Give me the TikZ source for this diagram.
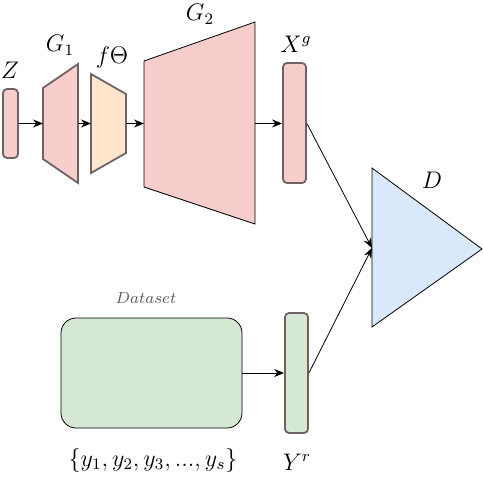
\documentclass[tikz,border=0pt]{standalone}
\usetikzlibrary{arrows.meta}
\definecolor{pinkfill}{HTML}{F8CECC}
\definecolor{peachfill}{HTML}{FFE6CC}
\definecolor{greenfill}{HTML}{D5E8D4}
\definecolor{bluefill}{HTML}{DAE8FC}
\definecolor{edgegray}{HTML}{6E6262}
\tikzset{
  vecbox/.style={draw=edgegray, line width=0.9pt, rounded corners=2pt, inner sep=0pt},
  lbl/.style={font=\large},
}
\begin{document}
\begin{tikzpicture}  % ------ GAN  ---------------
      [x=0.5pt,y=-0.5pt,>={Stealth[length=5pt,width=4pt]}]
    \useasboundingbox (0,0) rectangle (483,477);
    \coordinate (G1a) at (43,88);  \coordinate (G1b) at (78,64);
    \coordinate (G1c) at (78,183); \coordinate (G1d) at (43,159);
    \coordinate (Fa) at (91,74);   \coordinate (Fb) at (126,94);
    \coordinate (Fc) at (126,153); \coordinate (Fd) at (91,173);
    \coordinate (G2a) at (144,61); \coordinate (G2b) at (255,22);
    \coordinate (G2c) at (255,224);\coordinate (G2d) at (144,187);
    \coordinate (Da) at (372,168); \coordinate (Db) at (482,249);
    \coordinate (Dc) at (372,327); \coordinate (Din) at (372,248);

    \filldraw [fill=pinkfill, draw=edgegray, line width=0.9pt] (G1a) -- (G1b) -- (G1c) -- (G1d) -- cycle ;
    \filldraw [fill=peachfill, draw=edgegray, line width=0.9pt] (Fa) -- (Fb) -- (Fc) -- (Fd) -- cycle ;
    \filldraw [fill=pinkfill, draw=black] (G2a) -- (G2b) -- (G2c) -- (G2d) -- cycle ;
    \filldraw [fill=bluefill, draw=black] (Da) -- (Db) -- (Dc) -- cycle ;

    \node [vecbox, fill=pinkfill, minimum width=7.5pt, minimum height=34.5pt] (Z) at (10.5,123.5) {};
    \node [vecbox, fill=pinkfill, minimum width=11.5pt, minimum height=60pt] (Xg) at (294.5,123) {};
    \node [vecbox, fill=greenfill, minimum width=11.5pt, minimum height=60pt] (Yr) at (296.5,373) {};
    \node [draw, fill=greenfill, rounded corners=7.5pt, minimum width=90.5pt, minimum height=55pt] (data) at (151.5,373) {};

    \draw [->] (Z.east) -- (G1a |- Z.east) ;
    \draw [->] (G1b |- Z.east) -- (Fa |- Z.east) ;
    \draw [->] (Fb |- Z.east) -- (G2a |- Z.east) ;
    \draw [->] (G2b |- Z.east) -- (Xg.west |- Z.east) ;
    \draw [->] (Xg.east |- Z.east) -- (Din) ;
    \draw [->] (data.east) -- (Yr.west) ;
    \draw [->] (Yr.east) -- (Din) ;

    \node [lbl] (tZ) at (10,70) {$Z$};
    \node [lbl] (tG1) at (60,45) {$G_1$};
    \node [lbl] (tF) at (112,57) {$f\Theta$};
    \node [lbl] (tG2) at (200,14) {$G_2$};
    \node [lbl] (tX) at (296,44) {$X^g$};
    \node [lbl] (tD) at (432,180) {$D$};
    \node [lbl] (tY) at (297,462) {$Y^r$};
    \node [lbl] (tset) at (153,460) {$\{y_1, y_2, y_3, ..., y_s\}$};
\begin{footnotesize}
    \node [text=black!65] (tdata) at (146,298) {$Dataset$};
\end{footnotesize}
\end{tikzpicture}
\end{document}
